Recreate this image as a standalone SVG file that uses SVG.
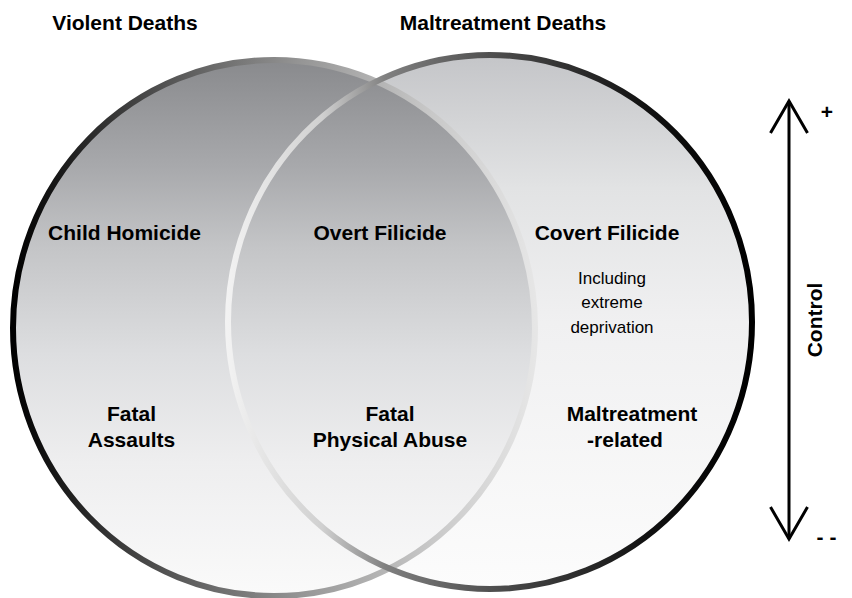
<svg xmlns="http://www.w3.org/2000/svg" width="852" height="598" viewBox="0 0 852 598">
<style>
.b{font-family:"Liberation Sans",Arial,sans-serif;font-weight:bold;font-size:21px;fill:#000;text-anchor:middle}
.r{font-family:"Liberation Sans",Arial,sans-serif;font-size:17px;fill:#000;text-anchor:middle}
.conn{stroke:#000;stroke-width:3;fill:none}
</style>
<defs>
<linearGradient id="lf" gradientUnits="userSpaceOnUse" x1="0" y1="60" x2="0" y2="596">
<stop offset="0" stop-color="#898a8d"/>
<stop offset="0.2" stop-color="#a8a9ac"/>
<stop offset="0.35" stop-color="#c4c5c7"/>
<stop offset="0.55" stop-color="#dddee0"/>
<stop offset="0.75" stop-color="#eeeeef"/>
<stop offset="1" stop-color="#fafafa"/>
</linearGradient>
<linearGradient id="rf" gradientUnits="userSpaceOnUse" x1="0" y1="55" x2="0" y2="589">
<stop offset="0" stop-color="#c4c5c8"/>
<stop offset="0.25" stop-color="#e2e3e4"/>
<stop offset="0.5" stop-color="#f0f0f1"/>
<stop offset="1" stop-color="#fcfcfc"/>
</linearGradient>
<linearGradient id="ls" gradientUnits="userSpaceOnUse" x1="13" y1="0" x2="535" y2="0">
<stop offset="0" stop-color="#000"/>
<stop offset="0.3" stop-color="#555"/>
<stop offset="0.55" stop-color="#959595"/>
<stop offset="0.8" stop-color="#c8c8c8"/>
<stop offset="1" stop-color="#e6e6e6"/>
</linearGradient>
<linearGradient id="rs" gradientUnits="userSpaceOnUse" x1="228" y1="0" x2="752" y2="0">
<stop offset="0" stop-color="#f2f2f2"/>
<stop offset="0.18" stop-color="#d0d0d0"/>
<stop offset="0.3" stop-color="#808080"/>
<stop offset="0.55" stop-color="#444"/>
<stop offset="0.8" stop-color="#111"/>
<stop offset="1" stop-color="#000"/>
</linearGradient>
<marker id="head" markerUnits="userSpaceOnUse" markerWidth="40" markerHeight="44" viewBox="-36 -22 40 44" refX="0" refY="0" orient="auto-start-reverse">
<path d="M-32,-18.5 L0,0 L-32,18.5" fill="none" stroke="#000" stroke-width="3"/>
</marker>
</defs>

<g id="maltreatment-circle-fill">
<ellipse cx="490" cy="322" rx="262" ry="267" fill="url(#rf)"/>
</g>
<g id="violent-circle">
<ellipse cx="274" cy="328" rx="261" ry="268" fill="url(#lf)" stroke="url(#ls)" stroke-width="6"/>
</g>
<g id="maltreatment-circle">
<ellipse cx="490" cy="322" rx="262" ry="267" fill="none" stroke="url(#rs)" stroke-width="6"/>
</g>

<g id="labels">
<text class="b" x="125" y="30">Violent Deaths</text>
<text class="b" x="503" y="30">Maltreatment Deaths</text>
</g>

<g id="child-homicide"><text class="b" x="124.5" y="240">Child Homicide</text></g>
<g id="overt-filicide"><text class="b" x="380" y="240">Overt Filicide</text></g>
<g id="covert-filicide">
<text class="b" x="607" y="240">Covert Filicide</text>
<text class="r" x="612" y="284">Including</text>
<text class="r" x="612" y="308">extreme</text>
<text class="r" x="612" y="333">deprivation</text>
</g>
<g id="fatal-assaults">
<text class="b" x="131.5" y="421">Fatal</text>
<text class="b" x="131.5" y="447">Assaults</text>
</g>
<g id="fatal-physical-abuse">
<text class="b" x="390" y="421">Fatal</text>
<text class="b" x="390" y="447">Physical Abuse</text>
</g>
<g id="maltreatment-related">
<text class="b" x="632" y="421">Maltreatment</text>
<text class="b" x="625" y="447">-related</text>
</g>

<g id="connectors">
<line class="conn" x1="789" y1="101" x2="789" y2="539" marker-start="url(#head)" marker-end="url(#head)"/>
</g>
<g id="control-axis">
<text class="b" transform="translate(822,320) rotate(-90)" x="0" y="0">Control</text>
<text class="b" x="827" y="118.5">+</text>
<text class="b" x="826.5" y="544">- -</text>
</g>
</svg>
